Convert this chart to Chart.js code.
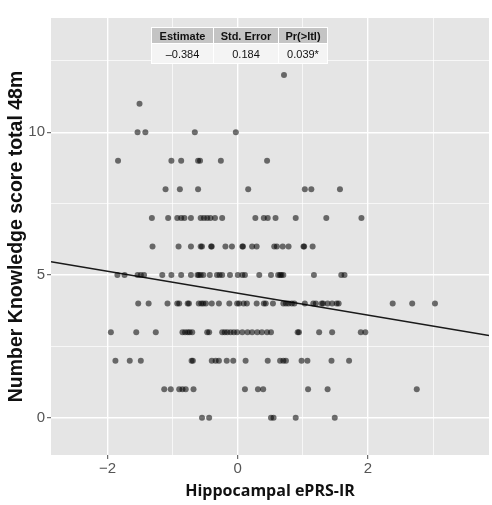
<!DOCTYPE html>
<html>
<head>
<meta charset="utf-8">
<script src="https://cdn.jsdelivr.net/npm/chart.js@4/dist/chart.umd.min.js"></script>
<style>
  html, body { margin: 0; padding: 0; background: #fff; }
  #wrap { position: relative; width: 492px; height: 505px; }
  #coefTable {
    position: absolute; left: 151px; top: 27px;
    border-collapse: collapse; font-family: "Liberation Sans", Arial, sans-serif;
    font-size: 11px; color: #111;
  }
  #coefTable th, #coefTable td { border: 1px solid #fff; text-align: center; padding: 0; }
  #coefTable th { background: #c4c4c4; height: 15px; font-weight: bold; }
  #coefTable td { background: #f4f4f4; height: 19px; }
</style>
</head>
<body>
<div id="wrap">
  <canvas id="chart" width="492" height="505"></canvas>
  <table id="coefTable"></table>
</div>
<script>
// regression summary shown in the inset table
const tableHeaders = ["Estimate", "Std. Error", "Pr(>ltl)"];
const tableValues = ["\u20130.384", "0.184", "0.039*"];
const tableWidths = [61, 64, 48];

// score rows (y) and the ePRS values (x)
const rowScores = [12, 11, 10, 9, 8, 7, 6, 5, 4, 3, 2, 1, 0];
const rowX = [
  [0.71],
  [-1.51],
  [-1.54, -1.42, -0.66, -0.03],
  [-1.84, -1.02, -0.87, -0.61, -0.58, -0.26, 0.45],
  [-1.11, -0.89, -0.61, 0.16, 1.03, 1.13, 1.57],
  [-1.32, -1.07, -0.93, -0.87, -0.82, -0.72, -0.57, -0.52, -0.47, -0.42, -0.35, -0.24, 0.27, 0.40, 0.46, 0.58, 0.89, 1.36, 1.90],
  [-1.31, -0.91, -0.72, -0.57, -0.55, -0.40, -0.41, -0.19, -0.09, 0.07, 0.08, 0.22, 0.29, 0.56, 0.60, 0.69, 0.78, 1.01, 1.02, 1.15],
  [-1.85, -1.74, -1.54, -1.49, -1.44, -1.16, -1.02, -0.87, -0.72, -0.62, -0.60, -0.57, -0.53, -0.43, -0.32, -0.28, -0.24, -0.12, 0.00, 0.07, 0.11, 0.33, 0.51, 0.62, 0.65, 0.67, 0.70, 1.17, 1.59, 1.64],
  [-1.53, -1.37, -1.08, -0.93, -0.90, -0.77, -0.75, -0.60, -0.56, -0.53, -0.49, -0.40, -0.29, -0.13, -0.01, 0.02, 0.09, 0.14, 0.29, 0.40, 0.43, 0.54, 0.70, 0.74, 0.78, 0.83, 0.87, 1.03, 1.16, 1.20, 1.29, 1.31, 1.38, 1.45, 1.52, 1.55, 2.38, 2.68, 3.03],
  [-1.95, -1.56, -1.26, -0.85, -0.81, -0.77, -0.74, -0.70, -0.47, -0.44, -0.24, -0.20, -0.16, -0.11, -0.06, -0.01, 0.07, 0.15, 0.22, 0.30, 0.37, 0.45, 0.51, 0.92, 0.94, 1.25, 1.45, 1.89, 1.96],
  [-1.88, -1.66, -1.49, -0.71, -0.69, -0.40, -0.34, -0.29, -0.17, -0.07, 0.12, 0.46, 0.65, 0.70, 0.74, 0.98, 1.07, 1.44, 1.71],
  [-1.13, -1.03, -0.90, -0.85, -0.80, -0.68, 0.11, 0.31, 0.39, 1.08, 1.38, 2.75],
  [-0.55, -0.44, 0.51, 0.55, 0.89, 1.49]
];

// fitted line end points
const fitX = [-2.87, 3.86];
const fitY = [5.47, 2.88];

const xTicks = [-2, -1, 0, 1, 2, 3];
const yTicks = [0, 2.5, 5, 7.5, 10, 12.5];

const thead = "<tr>" + tableHeaders.map((h, i) => `<th style="width:${tableWidths[i]}px">${h}</th>`).join("") + "</tr>";
const tbody = "<tr>" + tableValues.map(v => `<td>${v}</td>`).join("") + "</tr>";
document.getElementById("coefTable").innerHTML = thead + tbody;

const points = [];
rowScores.forEach((score, i) => {
  rowX[i].forEach(x => points.push({ x: x, y: score }));
});

const panelBg = {
  id: "panelBg",
  beforeDraw(chart) {
    const a = chart.chartArea;
    const c = chart.ctx;
    c.save();
    c.fillStyle = "#e5e5e5";
    c.fillRect(a.left, a.top, a.right - a.left, a.bottom - a.top);
    c.restore();
  }
};

const isMajor = (v, step) => Math.abs(v / step - Math.round(v / step)) < 1e-6;
const fmt = v => (v < 0 ? "\u2212" + Math.abs(v) : String(v));

new Chart(document.getElementById("chart"), {
  type: "scatter",
  data: {
    datasets: [
      {
        data: points,
        backgroundColor: "rgba(0,0,0,0.55)",
        borderWidth: 0,
        pointRadius: 3,
        pointHoverRadius: 3
      },
      {
        type: "line",
        data: fitX.map((x, i) => ({ x: x, y: fitY[i] })),
        borderColor: "#1a1a1a",
        borderWidth: 1.5,
        pointRadius: 0,
        fill: false
      }
    ]
  },
  plugins: [panelBg],
  options: {
    responsive: false,
    animation: false,
    layout: { padding: { top: 18, right: 0, bottom: 0, left: 0 } },
    plugins: { legend: { display: false }, tooltip: { enabled: false } },
    scales: {
      x: {
        type: "linear",
        min: -2.87,
        max: 3.86,
        afterBuildTicks: s => { s.ticks = xTicks.map(v => ({ value: v })); },
        afterFit: s => { s.height = 50; },
        border: { display: false },
        grid: {
          color: "#ffffff",
          lineWidth: c => (c.tick && isMajor(c.tick.value, 2) ? 1.4 : 0.7),
          tickColor: c => (c.tick && isMajor(c.tick.value, 2) ? "#4d4d4d" : "rgba(0,0,0,0)"),
          tickLength: 4,
          tickWidth: 1
        },
        ticks: {
          autoSkip: false,
          maxRotation: 0,
          padding: 1,
          color: "#555555",
          font: { family: "'Liberation Sans', Arial, sans-serif", size: 15 },
          callback: v => (isMajor(v, 2) ? fmt(v) : "")
        },
        title: {
          display: true,
          text: "Hippocampal ePRS-IR",
          color: "#111111",
          padding: { top: 0, bottom: 4 },
          font: { family: "'Open Sans', sans-serif", size: 16, weight: "bold" }
        }
      },
      y: {
        type: "linear",
        min: -1.3,
        max: 14.0,
        afterBuildTicks: s => { s.ticks = yTicks.map(v => ({ value: v })); },
        afterFit: s => { s.width = 51; },
        border: { display: false },
        grid: {
          color: "#ffffff",
          lineWidth: c => (c.tick && isMajor(c.tick.value, 5) ? 1.4 : 0.7),
          tickColor: c => (c.tick && isMajor(c.tick.value, 5) ? "#4d4d4d" : "rgba(0,0,0,0)"),
          tickLength: 4,
          tickWidth: 1
        },
        ticks: {
          autoSkip: false,
          padding: 2,
          color: "#555555",
          font: { family: "'Liberation Sans', Arial, sans-serif", size: 15 },
          callback: v => (isMajor(v, 5) ? fmt(v) : "")
        },
        title: {
          display: true,
          text: "Number Knowledge score total 48m",
          color: "#111111",
          padding: { top: 5, bottom: 0 },
          font: { family: "'Liberation Sans', Arial, sans-serif", size: 19.5, weight: "bold" }
        }
      }
    }
  }
});
</script>
</body>
</html>
